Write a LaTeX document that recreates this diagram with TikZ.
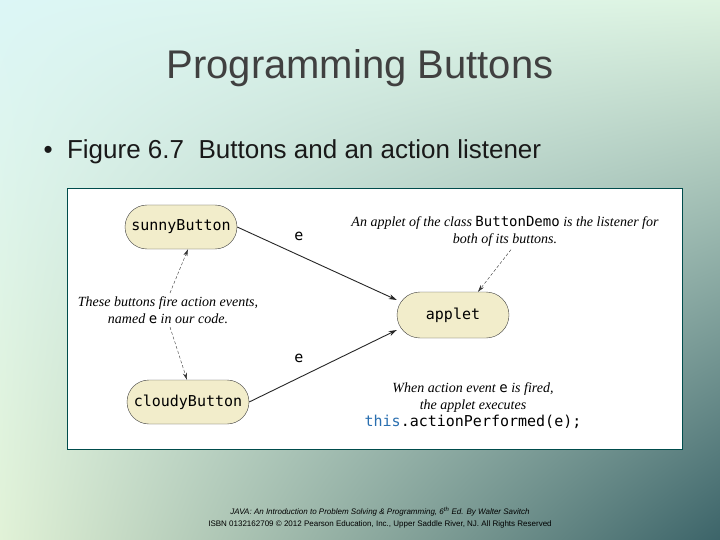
\documentclass[tikz,border=0pt]{standalone}
\usepackage{fontspec}
\setmainfont{Liberation Sans}
\newfontfamily\serifit{Liberation Serif}[ItalicFont=* Italic]
\setmonofont{DejaVu Sans Mono}
\usetikzlibrary{shapes.misc,arrows.meta,shadings}
\definecolor{bxfill}{HTML}{F2EDCB}
\definecolor{codeblue}{HTML}{2A6FB0}
\definecolor{ttl}{HTML}{404040}
\definecolor{bgul}{RGB}{220,246,246}
\definecolor{bgur}{RGB}{222,244,225}
\definecolor{bgll}{RGB}{225,242,215}
\definecolor{bglr}{RGB}{60,100,105}
\tikzset{
 btn/.style={draw=black!75,fill=bxfill,rounded rectangle,minimum height=44pt,font=\ttfamily\fontsize{15}{17}\selectfont,inner xsep=4pt},
 note/.style={font=\serifit\itshape\fontsize{14}{17}\selectfont,align=center},
 main/.style={-{Stealth[length=8pt,width=5pt]},line width=0.9pt,black!85},
 thin/.style={-{Stealth[length=7pt,width=4pt]},line width=0.4pt,densely dashed,black!80},
}
\begin{document}
\begin{tikzpicture}[x=1pt,y=-1pt]
\useasboundingbox (0,0) rectangle (720,540);
\shade[upper left=bgul,upper right=bgur,lower left=bgll,lower right=bglr] (0,0) rectangle (720,540);
\node[font=\fontsize{40}{44}\selectfont,text=ttl] (title) at (360,68) {Programming Buttons};
\node[font=\fontsize{26}{30}\selectfont,anchor=west,text=black!90] (bul) at (40,152) {\textbullet\ \ Figure 6.7\ \ Buttons and an action listener};
\draw[fill=white,draw=teal!60!black,line width=0.8pt] (67,188) rectangle (682,449);
\node[btn,minimum width=120pt] (sunny) at (181,227) {sunnyButton};
\node[btn,minimum width=130pt] (cloudy) at (188,402) {cloudyButton};
\node[btn,minimum width=120pt,minimum height=46pt] (applet) at (453,315) {applet};
\draw[main] (sunny.east) -- (applet.west|-0,300) coordinate (a1);
\draw[main] (cloudy.east) -- (applet.west|-0,330) coordinate (a2);
\node[font=\ttfamily\fontsize{15}{17}\selectfont] (e1) at (299,236) {e};
\node[font=\ttfamily\fontsize{15}{17}\selectfont] (e2) at (299,358) {e};
\node[note] (lt) at (168,310) {These buttons fire action events,\\ named {\upshape\ttfamily e} in our code.};
\draw[thin] (lt.north-|170,0) -- (sunny.south-|188,0);
\draw[thin] (lt.south-|170,0) -- (cloudy.north-|187,0);
\node[note] (rt) at (505,231) {An applet of the class {\upshape\ttfamily ButtonDemo} is the listener for\\ both of its buttons.};
\draw[thin] (rt.south-|511,0) -- (applet.north-|478,0);
\node[note] (bt) at (473,406) {When action event {\upshape\ttfamily e} is fired,\\ the applet executes\\ {\upshape\ttfamily\fontsize{15}{19}\selectfont\textcolor{codeblue}{this}.actionPerformed(e);}};
\node[font=\itshape\fontsize{8}{10}\selectfont] (f1) at (380,512) {JAVA: An Introduction to Problem Solving \& Programming, 6\textsuperscript{th} Ed. By Walter Savitch};
\node[font=\fontsize{8}{10}\selectfont] (f2) at (380,524) {ISBN 0132162709 \textcopyright{} 2012 Pearson Education, Inc., Upper Saddle River, NJ. All Rights Reserved};
\end{tikzpicture}
\end{document}
